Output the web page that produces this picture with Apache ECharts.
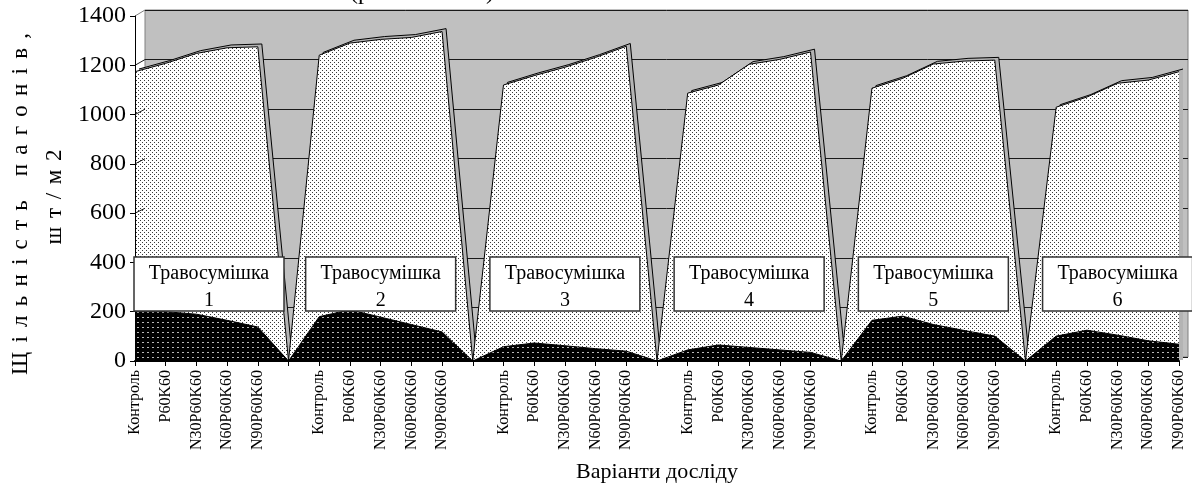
<!DOCTYPE html>
<html>
<head>
<meta charset="utf-8">
<script src="https://cdn.jsdelivr.net/npm/echarts@6/dist/echarts.min.js"></script>
<style>
  html, body { margin: 0; padding: 0; background: #ffffff; }
  #chart { width: 1192px; height: 488px; }
</style>
</head>
<body>
<div id="chart"></div>
<script>
// Fertiliser variants within each grass mixture
const treatments = ['Контроль', 'P60K60', 'N30P60K60', 'N60P60K60', 'N90P60K60'];
const mixtureLabels = ['Травосумішка\n1', 'Травосумішка\n2', 'Травосумішка\n3',
                       'Травосумішка\n4', 'Травосумішка\n5', 'Травосумішка\n6'];

// Total shoot density, pcs/m2 (light area), one array per mixture
const totalMix1 = [1174, 1208, 1248, 1271, 1275];
const totalMix2 = [1241, 1290, 1305, 1313, 1337];
const totalMix3 = [1120, 1158, 1192, 1232, 1277];
const totalMix4 = [1087, 1120, 1204, 1224, 1254];
const totalMix5 = [1107, 1147, 1205, 1217, 1221];
const totalMix6 = [1030, 1071, 1127, 1140, 1174];

// Lower component, pcs/m2 (dark area)
const darkMix1 = [200, 200, 190, 165, 138];
const darkMix2 = [180, 208, 178, 148, 118];
const darkMix3 = [58, 73, 62, 50, 40];
const darkMix4 = [45, 65, 55, 45, 35];
const darkMix5 = [165, 182, 148, 124, 101];
const darkMix6 = [101, 125, 105, 82, 68];

// Value between two mixtures (empty category)
const gapValue = 0;

const yTicks = [0, 200, 400, 600, 800, 1000, 1200, 1400];
const yTitleLine1 = 'Щільність пагонів,';
const yTitleLine2 = 'шт/м2';
const xTitle = 'Варіанти досліду';

const totals = [totalMix1, totalMix2, totalMix3, totalMix4, totalMix5, totalMix6];
const darks = [darkMix1, darkMix2, darkMix3, darkMix4, darkMix5, darkMix6];

// Flatten the groups into one category axis with an empty slot between mixtures
const categories = [];
const totalSeries = [];
const darkSeries = [];
const groupCentres = [];
totals.forEach((grp, g) => {
  if (g > 0) { categories.push(''); totalSeries.push(gapValue); darkSeries.push(gapValue); }
  groupCentres.push(categories.length + 2);
  treatments.forEach((t, i) => {
    categories.push(t);
    totalSeries.push(grp[i]);
    darkSeries.push(darks[g][i]);
  });
});

// Dotted hatch fills
function makePattern(size, bg, fg, dots) {
  const c = document.createElement('canvas');
  c.width = size; c.height = size;
  const ctx = c.getContext('2d');
  ctx.fillStyle = bg; ctx.fillRect(0, 0, size, size);
  ctx.fillStyle = fg;
  dots.forEach(d => ctx.fillRect(d[0], d[1], d[2], d[3]));
  return c;
}
const lightFill = { image: makePattern(4, '#ffffff', '#3a3a3a', [[0, 0, 1, 1], [2, 2, 1, 1]]), repeat: 'repeat' };
const darkFill = { image: makePattern(5, '#000000', '#b8b8b8', [[2, 2, 2, 1]]), repeat: 'repeat' };
const bandFill = '#b4b4b4';

const FONT = '"Liberation Serif", "Times New Roman", serif';
const yMax = 1400;

const chart = echarts.init(document.getElementById('chart'), null, { renderer: 'canvas' });

const option = {
  animation: false,
  backgroundColor: '#ffffff',
  grid: [
    // back wall
    { left: 145, top: 10, right: 4, bottom: 131, show: true, backgroundColor: '#c0c0c0',
      borderColor: '#808080', borderWidth: 1 },
    // depth of the areas
    { left: 139, top: 13, right: 9, bottom: 128 },
    // front plane
    { left: 135, top: 16, right: 13, bottom: 125 }
  ],
  xAxis: [
    { gridIndex: 0, type: 'value', min: 0, max: 1, show: false },
    { gridIndex: 1, type: 'category', data: categories, boundaryGap: false, show: false },
    {
      gridIndex: 2, type: 'category', data: categories, boundaryGap: false, z: 10,
      axisLine: { show: true, lineStyle: { color: '#000', width: 2 } },
      axisTick: { show: true, interval: 0, length: 5, lineStyle: { color: '#000', width: 1 } },
      axisLabel: { interval: 0, rotate: 90, margin: 9, color: '#000', fontFamily: FONT, fontSize: 16 },
      splitLine: { show: false },
      name: xTitle, nameLocation: 'middle', nameGap: 100,
      nameTextStyle: { color: '#000', fontFamily: FONT, fontSize: 22 }
    }
  ],
  yAxis: [
    {
      gridIndex: 0, type: 'value', min: 0, max: yMax, interval: 200,
      axisLine: { show: false }, axisTick: { show: false }, axisLabel: { show: false },
      splitLine: { show: true, lineStyle: { color: '#1a1a1a', width: 1 } }
    },
    { gridIndex: 1, type: 'value', min: 0, max: yMax, interval: 200, show: false, splitLine: { show: false } },
    {
      gridIndex: 2, type: 'value', min: 0, max: yMax, interval: 200, z: 10,
      axisLine: { show: true, lineStyle: { color: '#000', width: 1 } },
      axisTick: { show: true, length: 5, lineStyle: { color: '#000' } },
      axisLabel: { color: '#000', fontFamily: FONT, fontSize: 24, margin: 9,
                   formatter: v => String(v) },
      splitLine: { show: false }
    }
  ],
  series: [
    {
      name: 'depth', type: 'line', xAxisIndex: 1, yAxisIndex: 1, data: totalSeries,
      symbol: 'none', silent: true, z: 2,
      lineStyle: { color: '#000', width: 1 },
      areaStyle: { color: bandFill, opacity: 1 }
    },
    {
      name: 'total', type: 'line', xAxisIndex: 2, yAxisIndex: 2, data: totalSeries,
      symbol: 'none', silent: true, z: 3,
      lineStyle: { color: '#000', width: 1 },
      areaStyle: { color: lightFill, opacity: 1 }
    },
    {
      name: 'dark', type: 'line', xAxisIndex: 2, yAxisIndex: 2, data: darkSeries,
      symbol: 'none', silent: true, z: 4,
      lineStyle: { color: '#000', width: 1 },
      areaStyle: { color: darkFill, opacity: 1 }
    }
  ]
};
chart.setOption(option);

// Side wall lines, group captions and titles, placed from the axes' own scales
const xFront = v => chart.convertToPixel({ xAxisIndex: 2 }, v);
const yFront = v => chart.convertToPixel({ yAxisIndex: 2 }, v);
const yWall = v => chart.convertToPixel({ yAxisIndex: 0 }, v);
const wallLeft = chart.convertToPixel({ xAxisIndex: 0 }, 0);
const axisX = xFront(0);

const graphics = [];
yTicks.filter(v => v > 0).forEach(v => {
  graphics.push({
    type: 'line', z: 5,
    shape: { x1: axisX, y1: yFront(v), x2: wallLeft, y2: yWall(v) },
    style: { stroke: v === yMax ? '#808080' : '#1a1a1a', lineWidth: 1 }
  });
});

const boxW = 150, boxH = 54, boxTop = 257;
groupCentres.forEach((ci, g) => {
  const cx = xFront(ci);
  const left = Math.max(cx - boxW / 2, axisX - 1);
  graphics.push({
    type: 'rect', z: 20,
    shape: { x: left, y: boxTop, width: boxW, height: boxH },
    style: { fill: '#ffffff', stroke: '#333333', lineWidth: 1.5 }
  });
  graphics.push({
    type: 'text', z: 21, x: left + boxW / 2, y: boxTop + boxH / 2 + 3,
    style: { text: mixtureLabels[g], fill: '#000', font: '20px ' + FONT,
             align: 'center', verticalAlign: 'middle', lineHeight: 27 }
  });
});

// Letter-spaced vertical title lines (read bottom to top)
const measureCtx = document.createElement('canvas').getContext('2d');
function spacedVertical(str, cx, cy, fontSize, length) {
  const font = fontSize + 'px ' + FONT;
  measureCtx.font = font;
  const chars = str.split('');
  const widths = chars.map(ch => measureCtx.measureText(ch).width);
  const total = widths.reduce((a, b) => a + b, 0);
  const gap = (length - total) / (chars.length - 1);
  let pos = -length / 2;
  const children = [];
  chars.forEach((ch, i) => {
    if (ch !== ' ') {
      children.push({ type: 'text', x: pos, y: 0,
        style: { text: ch, fill: '#000', font: font, align: 'left', verticalAlign: 'middle' } });
    }
    pos += widths[i] + gap;
  });
  return { type: 'group', x: cx, y: cy, rotation: Math.PI / 2, z: 20, children: children };
}
graphics.push(spacedVertical(yTitleLine1, 21, 204, 23, 342));
graphics.push(spacedVertical(yTitleLine2, 55, 197, 23, 95));

// Lower edge of the heading line above the chart
graphics.push({
  type: 'text', x: 350, y: 5,
  style: { text: '(р', fill: '#000', font: '24px ' + FONT, align: 'left', verticalAlign: 'bottom' }
});
graphics.push({
  type: 'text', x: 486, y: 5,
  style: { text: ')', fill: '#000', font: '24px ' + FONT, align: 'left', verticalAlign: 'bottom' }
});

chart.setOption({ graphic: graphics });
</script>
</body>
</html>
